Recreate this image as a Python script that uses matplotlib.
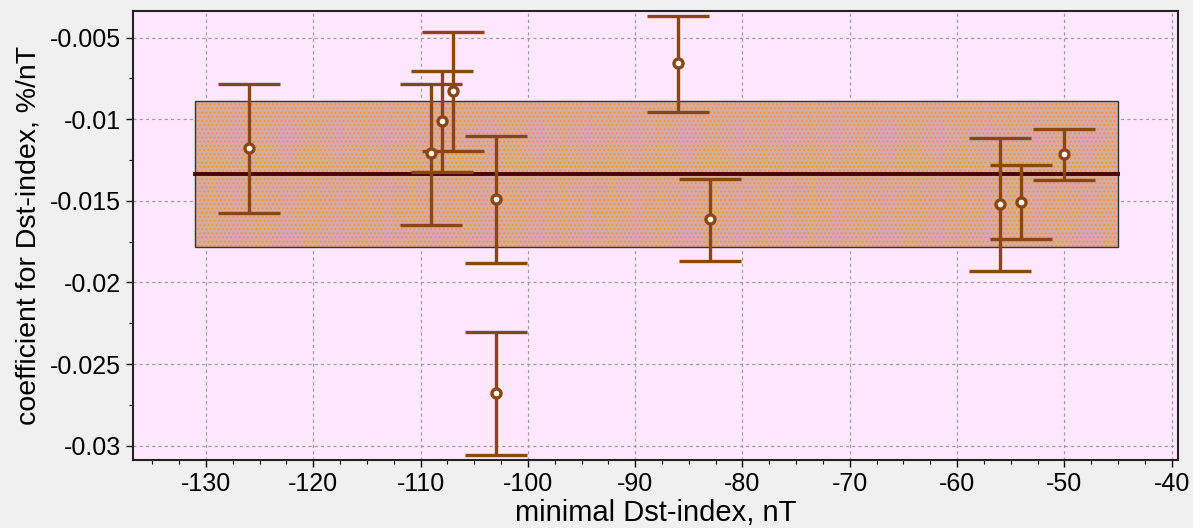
import matplotlib
matplotlib.use("Agg")
import matplotlib.pyplot as plt
from matplotlib.patches import Rectangle
from matplotlib.ticker import MultipleLocator

plt.rcParams['font.family'] = ['Liberation Sans', 'DejaVu Sans']
plt.rcParams['hatch.linewidth'] = 0.7

# Data
dst_min = [-126, -109, -108, -107, -103, -103, -86, -83, -56, -54, -50]
coef = [-0.01177, -0.01208, -0.01012, -0.00827, -0.01491, -0.02679,
        -0.00655, -0.01614, -0.01522, -0.01504, -0.01212]
err_low = [0.00396, 0.00437, 0.00314, 0.00369, 0.00392, 0.00380,
           0.00298, 0.00253, 0.00410, 0.00230, 0.00159]
err_high = [0.00395, 0.00426, 0.00306, 0.00362, 0.00389, 0.00377,
            0.00285, 0.00247, 0.00406, 0.00224, 0.00155]
mean_coef = -0.01335
mean_band = 0.00448
band_x = [-131, -45]
x_ticks = list(range(-130, -39, 10))
y_ticks = [-0.005, -0.01, -0.015, -0.02, -0.025, -0.03]
y_tick_labels = ['-0.005', '-0.01', '-0.015', '-0.02', '-0.025', '-0.03']

fig = plt.figure(figsize=(11.93, 5.28), dpi=100, facecolor='#f0f0f0')
ax = fig.add_axes([0.1115, 0.1288, 0.876, 0.8502])
ax.set_facecolor('#ffe8fd')

ax.set_xlim(-136.8, -39.4)
ax.set_ylim(-0.03088, -0.00337)

# band
ax.add_patch(Rectangle((band_x[0], mean_coef - mean_band), band_x[1] - band_x[0], 2 * mean_band,
                       facecolor='#d8aba0', edgecolor='#f5902e', hatch='....', linewidth=0, zorder=1))
ax.add_patch(Rectangle((band_x[0], mean_coef - mean_band), band_x[1] - band_x[0], 2 * mean_band,
                       facecolor='none', edgecolor='#333333', linewidth=1.0, zorder=2))
ax.plot(band_x, [mean_coef, mean_coef], color='#4b0000', linewidth=2.8, zorder=3)

ax.errorbar(dst_min, coef, yerr=[err_low, err_high], fmt='o', color='#8b460f',
            ecolor='#8b460f', elinewidth=2.4, capsize=22, capthick=2.4,
            markersize=6.5, markerfacecolor='white', markeredgecolor='#8b460f',
            markeredgewidth=2.4, zorder=4)

ax.xaxis.set_minor_locator(MultipleLocator(2.5))
ax.yaxis.set_minor_locator(MultipleLocator(0.0025))
ax.set_yticks(y_ticks)
ax.set_yticklabels(y_tick_labels)
ax.set_xticks(x_ticks)
ax.set_xticklabels([str(v) for v in x_ticks])

ax.grid(True, which='major', color='#a09aa0', linestyle=(0, (2.5, 2.5)), linewidth=0.9, zorder=0)
ax.set_axisbelow(True)
ax.tick_params(axis='both', which='major', direction='out', length=5, width=1, labelsize=18, colors='black')
ax.tick_params(axis='both', which='minor', direction='out', length=3, width=0.8)
for s in ax.spines.values():
    s.set_linewidth(1.5)
    s.set_color('#222222')

ax.set_xlabel('minimal Dst-index, nT', fontsize=21, labelpad=2)
ax.set_ylabel('coefficient for Dst-index, %/nT', fontsize=20.5, labelpad=6)

fig.savefig('out.png', dpi=100, facecolor=fig.get_facecolor())
